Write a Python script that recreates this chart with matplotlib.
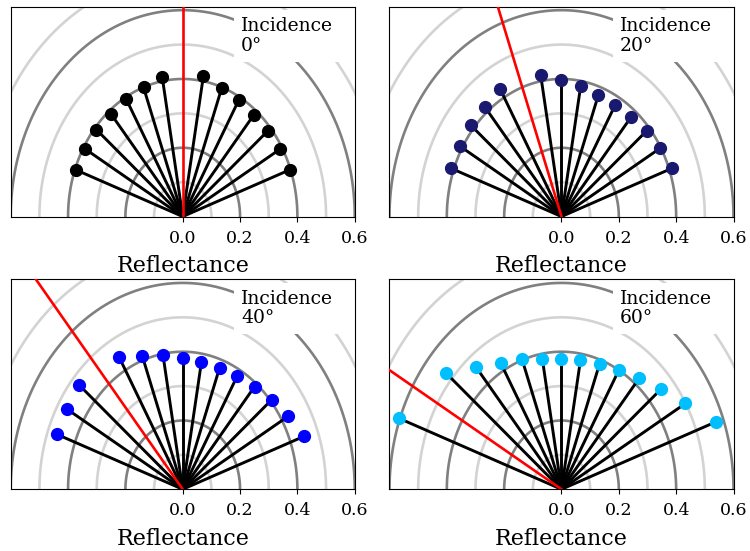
import numpy as np
import matplotlib
matplotlib.use("Agg")
import matplotlib.pyplot as plt

plt.rcParams['font.family'] = 'serif'

# incidence angle of each panel and the colour of its points
incidence = [0, 20, 40, 60]
colours = ['black', 'midnightblue', 'blue', 'deepskyblue']

# viewing angles (deg from normal, negative = incidence side) and reflectance
angles_0 = [-70, -60, -50, -40, -30, -20, -10, 10, 20, 30, 40, 50, 60, 70]
refl_0 = [0.398, 0.394, 0.393, 0.389, 0.393, 0.400, 0.413,
          0.415, 0.398, 0.391, 0.387, 0.386, 0.391, 0.397]

angles_20 = [-70, -60, -50, -40, -30, -10, 0, 10, 20, 30, 40, 50, 60, 70]
refl_20 = [0.411, 0.410, 0.413, 0.416, 0.428, 0.417, 0.396,
           0.386, 0.377, 0.376, 0.379, 0.389, 0.398, 0.409]

angles_40 = [-70, -60, -50, -30, -20, -10, 0, 10, 20, 30, 40, 50, 60, 70]
refl_40 = [0.466, 0.466, 0.471, 0.443, 0.412, 0.395, 0.383,
           0.377, 0.375, 0.379, 0.390, 0.406, 0.426, 0.452]

angles_60 = [-70, -50, -40, -30, -20, -10, 0, 10, 20, 30, 40, 50, 60, 70]
refl_60 = [0.603, 0.524, 0.463, 0.423, 0.403, 0.386, 0.380,
           0.381, 0.388, 0.401, 0.422, 0.454, 0.499, 0.573]

all_angles = [angles_0, angles_20, angles_40, angles_60]
all_refl = [refl_0, refl_20, refl_40, refl_60]

# reference circles
dark_radii = [0.2, 0.4, 0.6]
light_radii = [0.1, 0.3, 0.5, 0.7]

fig, axes = plt.subplots(2, 2, figsize=(7.5, 5.51), dpi=100)
fig.subplots_adjust(left=0.0143, right=0.978, top=0.9878, bottom=0.112,
                    wspace=0.101, hspace=0.30)

t = np.linspace(-np.pi / 2, np.pi / 2, 300)

for ax, inc, col, ang, refl in zip(axes.flat, incidence, colours, all_angles, all_refl):
    # the grey half circles
    for r in light_radii:
        ax.plot(r * np.sin(t), r * np.cos(t), color='lightgray', lw=1.9, zorder=1)
    for r in dark_radii:
        ax.plot(r * np.sin(t), r * np.cos(t), color='gray', lw=1.9, zorder=1)

    # one spoke per viewing angle
    a = np.radians(ang)
    x = np.array(refl) * np.sin(a)
    y = np.array(refl) * np.cos(a)
    for xi, yi in zip(x, y):
        ax.plot([0, xi], [0, yi], color='black', lw=2.1, zorder=2)
    ax.plot(x, y, 'o', color=col, ms=8.5, zorder=4)

    # incident beam
    ai = np.radians(-inc)
    ax.plot([0, np.sin(ai)], [0, np.cos(ai)], color='red', lw=1.9, zorder=3)

    ax.text(0.67, 0.95, "Incidence\n%d°" % inc, transform=ax.transAxes,
            ha='left', va='top', fontsize=13.5, linespacing=1.1, zorder=5,
            bbox=dict(facecolor='white', edgecolor='none', pad=5))

    ax.set_xlim(-0.6, 0.6)
    ax.set_ylim(0, 0.61)
    ax.set_xticks([0, 0.2, 0.4, 0.6])
    ax.set_yticks([])
    ax.tick_params(labelsize=12.5, pad=6)
    ax.set_xlabel("Reflectance", fontsize=16, labelpad=6)

fig.savefig("out.png", dpi=100)
